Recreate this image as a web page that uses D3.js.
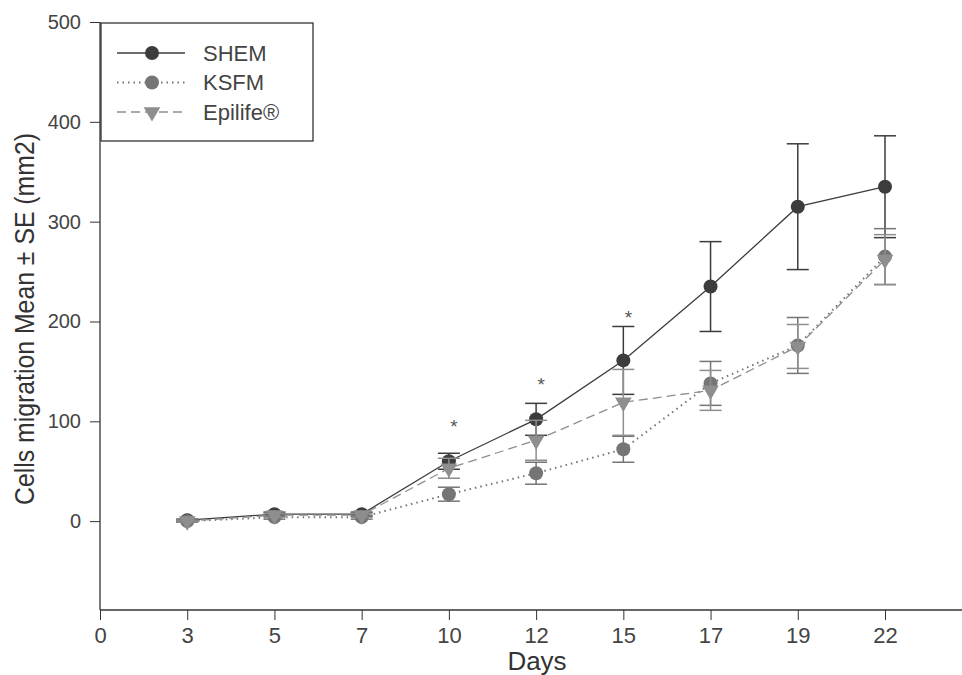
<!DOCTYPE html>
<html>
<head>
<meta charset="utf-8">
<script src="https://cdn.jsdelivr.net/npm/d3@7"></script>
<style>
  body { margin: 0; background: #fff; }
  text { font-family: "Liberation Sans", Arial, sans-serif; }
</style>
</head>
<body>
<div id="chart"></div>
<script>
// tick labels on the x axis (categorical days)
var dayLabels = ["0", "3", "5", "7", "10", "12", "15", "17", "19", "22"];
var days = ["3", "5", "7", "10", "12", "15", "17", "19", "22"];

// mean and SE per medium
var shemMean = [1, 7, 7, 60, 102, 161, 235, 315, 335];
var shemSE = [1, 2, 2, 8, 16, 34, 45, 63, 51];
var ksfmMean = [0, 4, 4, 27, 48, 72, 138, 176, 265];
var ksfmSE = [1, 2, 2, 7, 11, 13, 22, 28, 28];
var epiMean = [0, 6, 6, 53, 81, 119, 131, 175, 262];
var epiSE = [1, 2, 2, 10, 20, 33, 20, 22, 25];

// significance stars
var starDays = ["10", "12", "15"];
var starValues = [98, 140, 208];

var yTicks = [0, 100, 200, 300, 400, 500];

var width = 962;
var height = 675;

var svg = d3.select("#chart").append("svg")
    .attr("width", width)
    .attr("height", height);

var x = d3.scalePoint()
    .domain(dayLabels)
    .range([100, 885]);

var y = d3.scaleLinear()
    .domain([-89, 500])
    .range([610, 22]);

var series = [
    { name: "SHEM", mean: shemMean, se: shemSE, color: "#3c3c3c", dash: null, shape: "circle" },
    { name: "KSFM", mean: ksfmMean, se: ksfmSE, color: "#757575", dash: "1.5,4", shape: "circle" },
    { name: "Epilife®", mean: epiMean, se: epiSE, color: "#8e8e8e", dash: "9,5", shape: "triangle" }
];

// axes
var xAxis = svg.append("g")
    .attr("transform", "translate(0,610)")
    .call(d3.axisBottom(x).tickSize(10).tickPadding(7));
xAxis.select(".domain").remove();
xAxis.append("line")
    .attr("x1", 100).attr("x2", 962)
    .attr("stroke", "#333").attr("stroke-width", 1.3);
xAxis.selectAll(".tick line").attr("stroke", "#333");
xAxis.selectAll(".tick text")
    .attr("fill", "#444")
    .style("font-size", "22px");

var yAxis = svg.append("g")
    .attr("transform", "translate(100,0)")
    .call(d3.axisLeft(y).tickValues(yTicks).tickSize(10).tickPadding(9));
yAxis.select(".domain").remove();
yAxis.append("line")
    .attr("y1", 22).attr("y2", 610)
    .attr("stroke", "#333").attr("stroke-width", 1.3);
yAxis.selectAll(".tick line").attr("stroke", "#333");
yAxis.selectAll(".tick text")
    .attr("fill", "#444")
    .style("font-size", "20px");

svg.append("text")
    .attr("transform", "translate(34,319) rotate(-90)")
    .attr("text-anchor", "middle")
    .attr("fill", "#333")
    .attr("textLength", 372)
    .attr("lengthAdjust", "spacingAndGlyphs")
    .style("font-size", "27px")
    .text("Cells migration Mean ± SE (mm2)");

svg.append("text")
    .attr("x", 537)
    .attr("y", 670)
    .attr("text-anchor", "middle")
    .attr("fill", "#333")
    .style("font-size", "26px")
    .text("Days");

var line = d3.line()
    .x(d => x(d.day))
    .y(d => y(d.v));

var tri = d3.symbol().type(d3.symbolTriangle).size(120);

series.forEach(function(s) {
    var pts = days.map((d, i) => ({ day: d, v: s.mean[i], e: s.se[i] }));
    var g = svg.append("g");

    // error bars
    var eb = g.selectAll(".eb").data(pts).enter().append("g");
    eb.append("line")
        .attr("x1", d => x(d.day)).attr("x2", d => x(d.day))
        .attr("y1", d => y(d.v + d.e)).attr("y2", d => y(d.v - d.e))
        .attr("stroke", s.color).attr("stroke-width", 1.5);
    [1, -1].forEach(function(sign) {
        eb.append("line")
            .attr("x1", d => x(d.day) - 11).attr("x2", d => x(d.day) + 11)
            .attr("y1", d => y(d.v + sign * d.e)).attr("y2", d => y(d.v + sign * d.e))
            .attr("stroke", s.color).attr("stroke-width", 1.5);
    });

    g.append("path")
        .datum(pts)
        .attr("d", line)
        .attr("fill", "none")
        .attr("stroke", s.color)
        .attr("stroke-width", s.dash && s.dash[0] === "1" ? 2 : 1.3)
        .attr("stroke-dasharray", s.dash);

    if (s.shape === "circle") {
        g.selectAll("circle").data(pts).enter().append("circle")
            .attr("cx", d => x(d.day)).attr("cy", d => y(d.v))
            .attr("r", 7)
            .attr("fill", s.color);
    } else {
        g.selectAll(".tri").data(pts).enter().append("path")
            .attr("d", tri)
            .attr("transform", d => `translate(${x(d.day)},${y(d.v)}) rotate(180)`)
            .attr("fill", s.color);
    }
});

// stars
svg.selectAll(".star").data(starDays).enter().append("text")
    .attr("x", d => x(d) + 5)
    .attr("y", (d, i) => y(starValues[i]) + 10)
    .attr("text-anchor", "middle")
    .attr("fill", "#555")
    .style("font-size", "19px")
    .text("*");

// legend
var legend = svg.append("g");
legend.append("rect")
    .attr("x", 101).attr("y", 23)
    .attr("width", 212).attr("height", 118)
    .attr("fill", "#fff")
    .attr("stroke", "#333").attr("stroke-width", 1.3);

series.forEach(function(s, i) {
    var ly = 53 + i * 29.5;
    legend.append("line")
        .attr("x1", 117).attr("x2", 185)
        .attr("y1", ly).attr("y2", ly)
        .attr("stroke", s.color)
        .attr("stroke-width", s.dash && s.dash[0] === "1" ? 2 : 1.3)
        .attr("stroke-dasharray", s.dash);
    if (s.shape === "circle") {
        legend.append("circle").attr("cx", 152).attr("cy", ly).attr("r", 7).attr("fill", s.color);
    } else {
        legend.append("path").attr("d", tri)
            .attr("transform", `translate(152,${ly}) rotate(180)`)
            .attr("fill", s.color);
    }
    legend.append("text")
        .attr("x", 203).attr("y", ly + 7.5)
        .attr("fill", "#444")
        .style("font-size", "22px")
        .text(s.name);
});
</script>
</body>
</html>
